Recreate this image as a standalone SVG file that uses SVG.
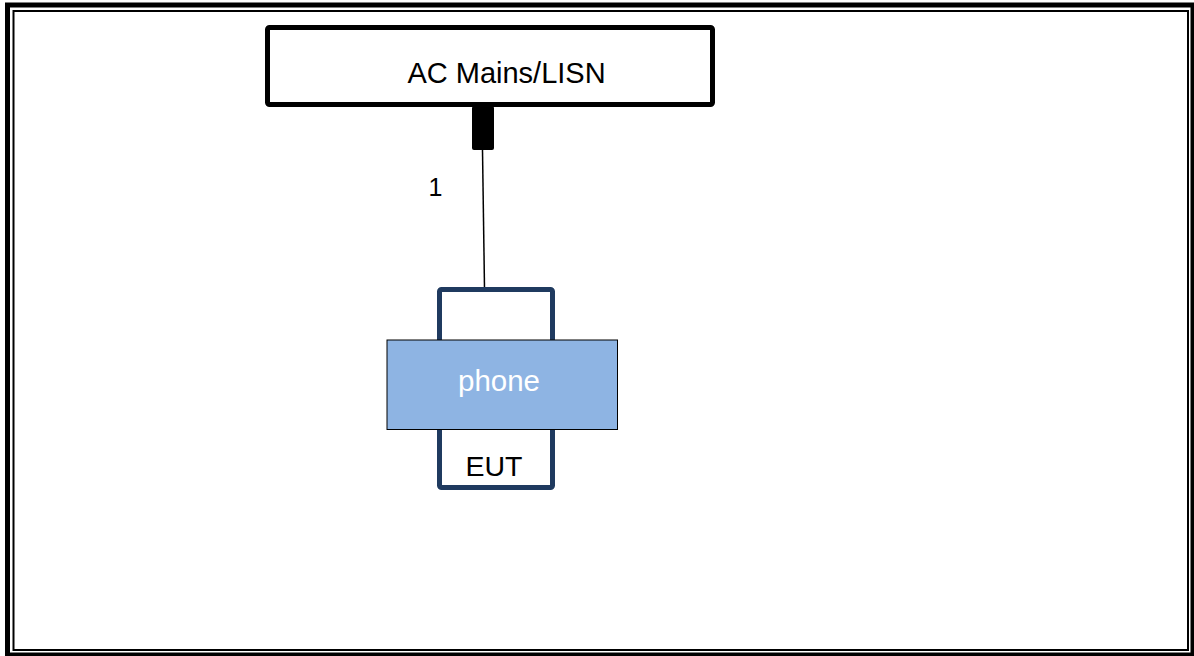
<svg xmlns="http://www.w3.org/2000/svg" width="1194" height="656" viewBox="0 0 1194 656">
<style>
text{font-family:"Liberation Sans",Arial,sans-serif;fill:#000;}
.frame{fill:none;stroke:#000;}
</style>
<rect width="1194" height="656" fill="#fff"/>
<g id="frame">
<rect class="frame" x="7.5" y="5" width="1185.5" height="650" stroke-width="5"/>
<rect class="frame" x="13.5" y="11" width="1174.5" height="639" stroke-width="2"/>
</g>
<g id="connectors">
<line x1="482.5" y1="150" x2="484.5" y2="288" stroke="#000" stroke-width="1.5"/>
<rect x="472" y="106" width="22" height="44" rx="2" fill="#000"/>
<text x="435.5" y="196" font-size="25" text-anchor="middle">1</text>
</g>
<g id="ac-mains">
<rect x="267.5" y="27.5" width="445" height="77" rx="2" fill="#fff" stroke="#000" stroke-width="5"/>
<text x="506.5" y="83" font-size="29" text-anchor="middle">AC Mains/LISN</text>
</g>
<g id="eut">
<rect x="439.5" y="289.5" width="113" height="198" rx="2" fill="#fff" stroke="#1F3A5F" stroke-width="5"/>
<text x="494" y="475.5" font-size="28.5" text-anchor="middle">EUT</text>
</g>
<g id="phone">
<rect x="387" y="340" width="230.5" height="89.5" fill="#8EB4E3" stroke="#000" stroke-width="1"/>
<text x="499" y="390.5" font-size="29.5" text-anchor="middle" style="fill:#fff">phone</text>
</g>
</svg>
